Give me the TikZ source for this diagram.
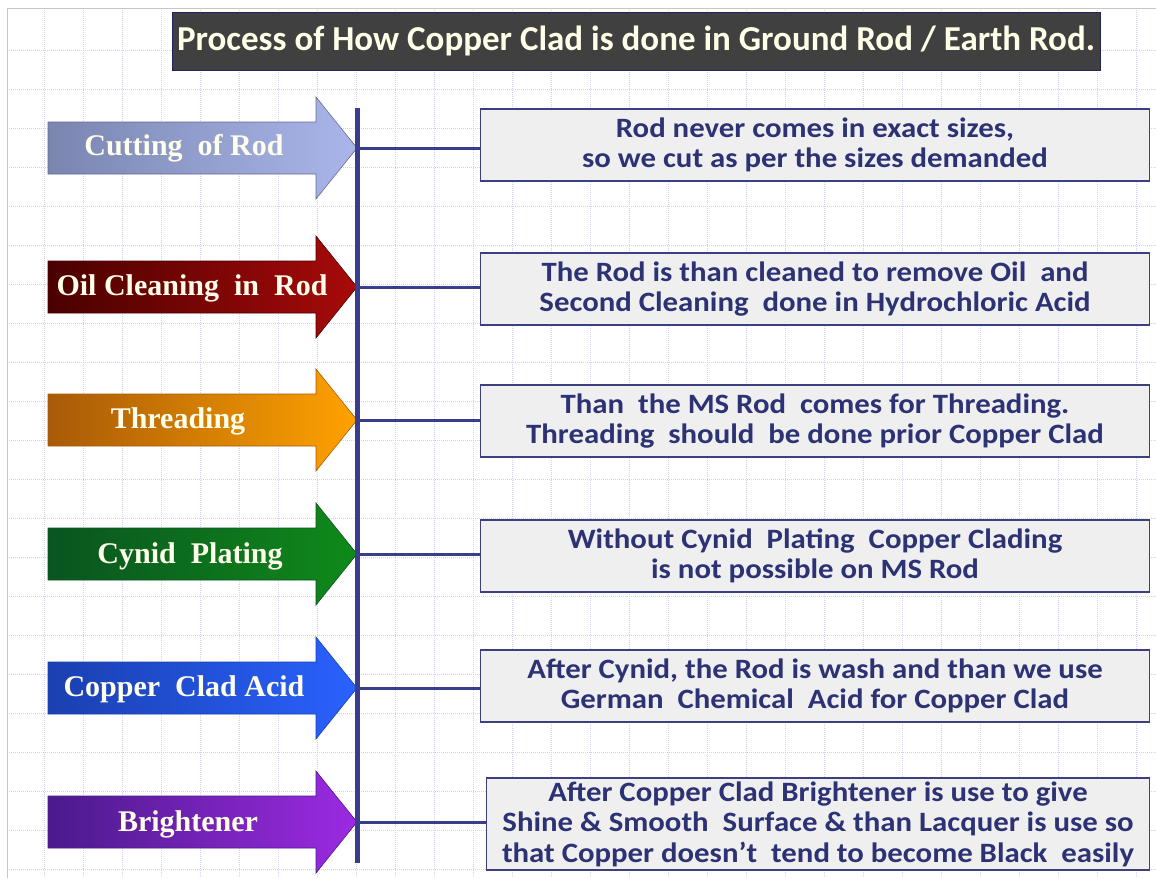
\documentclass[tikz,border=0pt]{standalone}
\usepackage{fontspec}
\setmainfont{Carlito}
\newfontfamily\stagefont{Liberation Serif}
\newfontfamily\notefont[FakeStretch=1.1]{Carlito}
\usetikzlibrary{positioning}
\definecolor{rodblue}{HTML}{383D8C}
\definecolor{gridc}{HTML}{CDD2EE}
\definecolor{boxline}{HTML}{3C4080}
\definecolor{boxfill}{HTML}{EFEFEF}
\definecolor{notetext}{HTML}{2D3274}
\definecolor{titlefill}{HTML}{404040}
\definecolor{cutL}{HTML}{7A86B0}\definecolor{cutR}{HTML}{AAB6EA}
\definecolor{oilL}{HTML}{4A0000}\definecolor{oilR}{HTML}{A80A0A}
\definecolor{thrL}{HTML}{A85A08}\definecolor{thrR}{HTML}{FFA200}
\definecolor{cynL}{HTML}{0A5420}\definecolor{cynR}{HTML}{0F8A1A}
\definecolor{accL}{HTML}{1A40B0}\definecolor{accR}{HTML}{2A62FF}
\definecolor{briL}{HTML}{4B1A8C}\definecolor{briR}{HTML}{9C2AE2}
\begin{document}
\begin{tikzpicture}[x=1pt,y=-1pt,
	gridline/.style={densely dotted,color=gridc,line width=1pt},
	stagetext/.style={font=\stagefont\bfseries\fontsize{30}{34}\selectfont,text=white!92!yellow},
	notebox/.style={draw=boxline,line width=1.8pt,fill=boxfill,inner sep=2pt,minimum width=669pt,minimum height=72pt,align=center,text=notetext,font=\notefont\bfseries\fontsize{28}{30.5}\selectfont},
	link/.style={draw=rodblue,line width=3pt}]
	\useasboundingbox (0,0) rectangle (1156,878);
	% background grid
	\foreach \gx in {44,83,...,1156} \draw[gridline] (\gx,8) -- (\gx,878);
	\foreach \gy in {50,89,...,878} \draw[gridline] (7,\gy) -- (1156,\gy);
	\draw[gray!45,line width=1pt] (7,878) -- (7,8) -- (1156,8);
	% title
	\node[fill=titlefill,draw=rodblue!60!black,line width=.6pt,minimum width=928pt,minimum height=58pt,text=white!90!yellow,font=\bfseries\fontsize{35}{40}\selectfont] (title) at (636,41) {Process of How Copper Clad is done in Ground Rod / Earth Rod.};
	% stage arrows
	\path[draw=cutL!80!black,line width=.6pt,left color=cutL,right color=cutR] (48,122) -- (316,122) -- (316,97) -- (357,148) -- (316,199) -- (316,174) -- (48,174) -- cycle;
	\path[draw=oilL,line width=.6pt,left color=oilL,right color=oilR] (48,261) -- (316,261) -- (316,236) -- (357,287) -- (316,338) -- (316,313) -- (48,313) -- cycle;
	\path[draw=thrL,line width=.6pt,left color=thrL,right color=thrR] (48,394) -- (316,394) -- (316,369) -- (357,420) -- (316,471) -- (316,446) -- (48,446) -- cycle;
	\path[draw=cynL,line width=.6pt,left color=cynL,right color=cynR] (48,528) -- (316,528) -- (316,503) -- (357,554) -- (316,605) -- (316,580) -- (48,580) -- cycle;
	\path[draw=accL,line width=.6pt,left color=accL,right color=accR] (48,662) -- (316,662) -- (316,637) -- (357,688) -- (316,739) -- (316,714) -- (48,714) -- cycle;
	\path[draw=briL,line width=.6pt,left color=briL,right color=briR] (48,796) -- (316,796) -- (316,771) -- (357,822) -- (316,873) -- (316,848) -- (48,848) -- cycle;
	\node[stagetext] (cut) at (184,148) {Cutting~ of Rod};
	\node[stagetext] (oil) at (192,288) {Oil Cleaning~ in~ Rod};
	\node[stagetext] (thr) at (178,421) {Threading};
	\node[stagetext] (cyn) at (190,556) {Cynid~ Plating};
	\node[stagetext] (acc) at (184,689) {Copper~ Clad Acid};
	\node[stagetext] (bri) at (188,824) {Brightener};
	% note boxes
	\node[notebox] (n1) at (815,145) {Rod never comes in exact sizes,\\so we cut as per the sizes demanded};
	\node[notebox] (n2) at (815,289) {The Rod is than cleaned to remove Oil~ and\\Second Cleaning~ done in Hydrochloric Acid};
	\node[notebox] (n3) at (815,421) {Than~ the MS Rod~ comes for Threading.\\Threading~ should~ be done prior Copper Clad};
	\node[notebox] (n4) at (815,556) {Without Cynid~ Plating~ Copper Clading\\is not possible on MS Rod};
	\node[notebox] (n5) at (815,686) {After Cynid, the Rod is wash and than we use\\German~ Chemical~ Acid for Copper Clad};
	\node[notebox,minimum width=663pt,minimum height=92pt] (n6) at (818,824) {After Copper Clad Brightener is use to give\\Shine \& Smooth~ Surface \& than Lacquer is use so\\that Copper doesn’t~ tend to become Black~ easily};
	% spine and links
	\coordinate (top) at (357,108);
	\coordinate (bottom) at (357,863);
	\coordinate (t1) at (357,148);
	\coordinate (t2) at (357,287);
	\coordinate (t3) at (357,420);
	\coordinate (t4) at (357,554);
	\coordinate (t5) at (357,688);
	\coordinate (t6) at (357,822);
	\draw[link] (t1) -- (t1 -| n1.west);
	\draw[link] (t2) -- (t2 -| n2.west);
	\draw[link] (t3) -- (t3 -| n3.west);
	\draw[link] (t4) -- (t4 -| n4.west);
	\draw[link] (t5) -- (t5 -| n5.west);
	\draw[link] (t6) -- (t6 -| n6.west);
	\draw[rodblue,line width=5pt] (top) -- (bottom);
\end{tikzpicture}
\end{document}
